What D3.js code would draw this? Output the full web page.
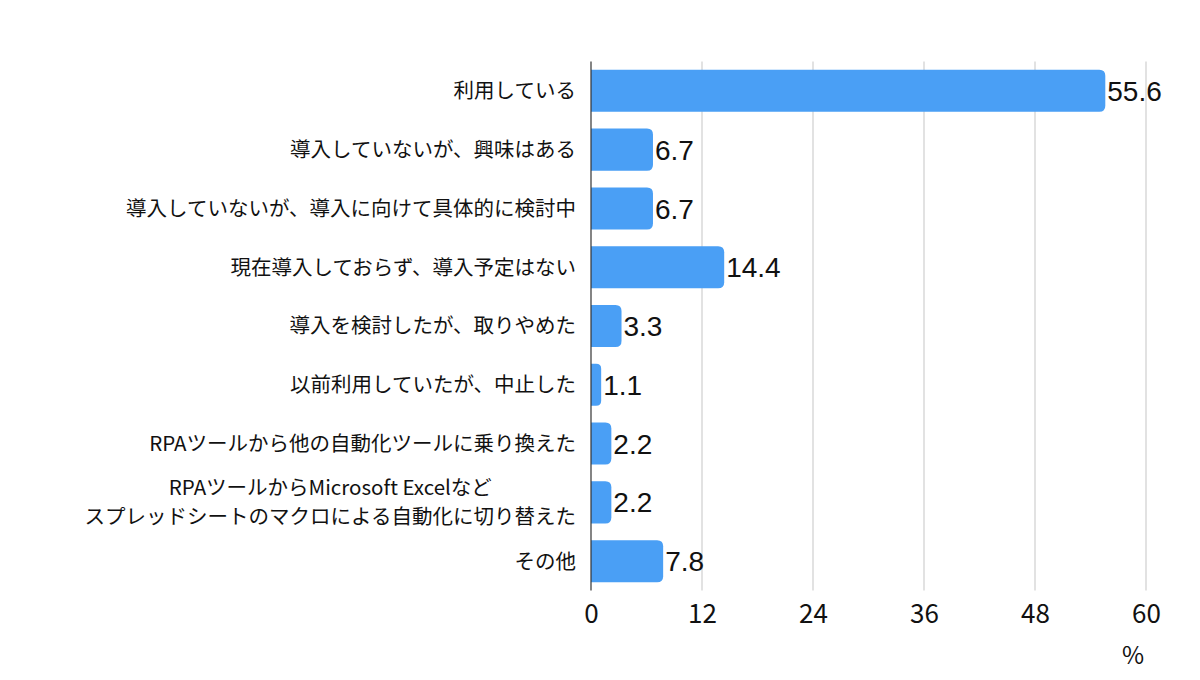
<!DOCTYPE html>
<html>
<head>
<meta charset="utf-8">
<script src="https://cdn.jsdelivr.net/npm/d3@7"></script>
<style>
  body { margin: 0; background: #fff; }
  text { font-family: "Noto Sans CJK JP", "Noto Sans", sans-serif; }
</style>
</head>
<body>
<div id="chart"></div>
<script>
const categories = [
  '利用している',
  '導入していないが、興味はある',
  '導入していないが、導入に向けて具体的に検討中',
  '現在導入しておらず、導入予定はない',
  '導入を検討したが、取りやめた',
  '以前利用していたが、中止した',
  'RPAツールから他の自動化ツールに乗り換えた',
  'RPAツールからMicrosoft Excelなど\nスプレッドシートのマクロによる自動化に切り替えた',
  'その他'
]
const values = [55.6, 6.7, 6.7, 14.4, 3.3, 1.1, 2.2, 2.2, 7.8]
const xTicks = [0, 12, 24, 36, 48, 60]
const unitLabel = '%'

const width = 1200
const height = 680
const margin = { top: 61.6, left: 591, right: 54, bottom: 89.6 }

const svg = d3
  .select('#chart')
  .append('svg')
  .attr('width', width)
  .attr('height', height)

const x = d3.scaleLinear().domain([0, 60]).range([margin.left, width - margin.right])
const y = d3
  .scaleBand()
  .domain(categories)
  .range([margin.top, height - margin.bottom])
  .paddingInner(0.285)
  .paddingOuter(0.14)

// gridlines
svg
  .append('g')
  .selectAll('line')
  .data(xTicks.slice(1))
  .join('line')
  .attr('x1', d => x(d))
  .attr('x2', d => x(d))
  .attr('y1', margin.top)
  .attr('y2', height - margin.bottom)
  .attr('stroke', '#d9d9d9')
  .attr('stroke-width', 1.5)

// bars, rounded on the right end
const r = 6
function barPath(d, i) {
  const x0 = x(0)
  const x1 = x(values[i])
  const y0 = y(d)
  const h = y.bandwidth()
  const rr = Math.min(r, (x1 - x0) / 2)
  return `M${x0},${y0}H${x1 - rr}Q${x1},${y0} ${x1},${y0 + rr}V${y0 + h - rr}Q${x1},${y0 + h} ${x1 - rr},${y0 + h}H${x0}Z`
}

svg
  .append('g')
  .selectAll('path')
  .data(categories)
  .join('path')
  .attr('d', barPath)
  .attr('fill', '#4a9ff5')

// value labels
svg
  .append('g')
  .selectAll('text')
  .data(categories)
  .join('text')
  .attr('x', (d, i) => x(values[i]) + 2)
  .attr('y', d => y(d) + y.bandwidth() / 2)
  .attr('dy', '0.36em')
  .style('font-family', '"Liberation Sans", Arial, sans-serif')
  .style('font-size', '28px')
  .style('fill', '#111')
  .text((d, i) => values[i].toFixed(1))

// category labels
const labels = svg
  .append('g')
  .selectAll('text')
  .data(categories)
  .join('text')
  .style('font-size', '20.5px')
  .style('fill', '#111')

labels.each(function (d) {
  const lines = d.split('\n')
  const t = d3.select(this)
  const cy = y(d) + y.bandwidth() / 2
  if (lines.length === 1) {
    t.attr('x', 576).attr('y', cy).attr('dy', '0.36em').attr('text-anchor', 'end').text(d)
  } else {
    t.attr('text-anchor', 'middle')
    const tmp = t.append('tspan').text(lines[1])
    const w = tmp.node().getComputedTextLength()
    tmp.remove()
    const cx = 576 - w / 2
    lines.forEach((line, k) => {
      t.append('tspan')
        .attr('x', cx)
        .attr('y', cy + (k - (lines.length - 1) / 2) * 29)
        .attr('dy', '0.36em')
        .text(line)
    })
  }
})

// axis
const xAxis = d3.axisBottom(x).tickValues(xTicks).tickSize(0).tickPadding(14)
const axisG = svg
  .append('g')
  .attr('transform', 'translate(0,' + (height - margin.bottom) + ')')
  .call(xAxis)
axisG.select('.domain').remove()
axisG.selectAll('text').style('font-size', '26px').style('fill', '#111')

svg
  .append('line')
  .attr('x1', x(0))
  .attr('x2', x(0))
  .attr('y1', margin.top)
  .attr('y2', height - margin.bottom)
  .attr('stroke', '#333')
  .attr('stroke-width', 1.2)

svg
  .append('text')
  .attr('x', x(60) - 13)
  .attr('y', 664)
  .attr('text-anchor', 'middle')
  .style('font-size', '24px')
  .style('fill', '#111')
  .text(unitLabel)
</script>
</body>
</html>
